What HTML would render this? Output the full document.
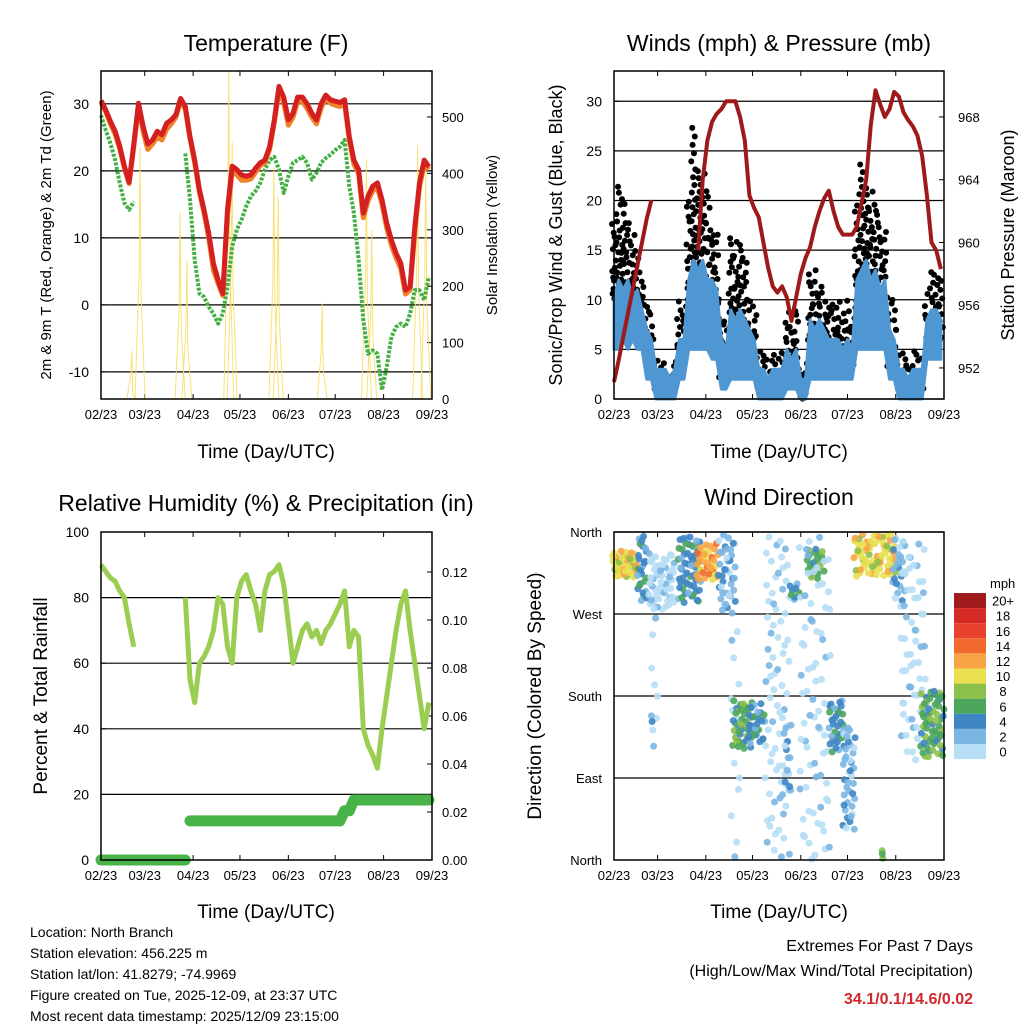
<!DOCTYPE html>
<html><head><meta charset="utf-8"><title>Station Charts</title>
<style>
html,body{margin:0;padding:0;background:#fff;}
svg{display:block;font-family:"Liberation Sans",sans-serif;}
</style></head>
<body>
<svg id="chart" width="1024" height="1024" viewBox="0 0 1024 1024" xmlns="http://www.w3.org/2000/svg">
<rect x="0" y="0" width="1024" height="1024" fill="#fff"/>
<text x="266" y="51" font-size="23" text-anchor="middle">Temperature (F)</text>
<text x="779" y="51" font-size="23" text-anchor="middle">Winds (mph) &amp; Pressure (mb)</text>
<text x="266" y="511" font-size="23" text-anchor="middle">Relative Humidity (%) &amp; Precipitation (in)</text>
<text x="779" y="505" font-size="23" text-anchor="middle">Wind Direction</text>
<text x="266" y="458" font-size="19" text-anchor="middle">Time (Day/UTC)</text>
<text x="779" y="458" font-size="19" text-anchor="middle">Time (Day/UTC)</text>
<text x="266" y="918" font-size="19" text-anchor="middle">Time (Day/UTC)</text>
<text x="779" y="918" font-size="19" text-anchor="middle">Time (Day/UTC)</text>
<text transform="translate(51,235) rotate(-90)" font-size="15" text-anchor="middle">2m &amp; 9m T (Red, Orange) &amp; 2m Td (Green)</text>
<text transform="translate(497,235) rotate(-90)" font-size="15" text-anchor="middle">Solar Insolation (Yellow)</text>
<text transform="translate(562,235) rotate(-90)" font-size="18" text-anchor="middle">Sonic/Prop Wind &amp; Gust (Blue, Black)</text>
<text transform="translate(1014,235) rotate(-90)" font-size="18" text-anchor="middle">Station Pressure (Maroon)</text>
<text transform="translate(47,696) rotate(-90)" font-size="19" text-anchor="middle">Percent &amp; Total Rainfall</text>
<text transform="translate(541,696) rotate(-90)" font-size="19" text-anchor="middle">Direction (Colored By Speed)</text>
<g font-size="14">
<text x="30" y="937">Location: North Branch</text>
<text x="30" y="958">Station elevation: 456.225 m</text>
<text x="30" y="979">Station lat/lon: 41.8279; -74.9969</text>
<text x="30" y="1000">Figure created on Tue, 2025-12-09, at 23:37 UTC</text>
<text x="30" y="1021">Most recent data timestamp: 2025/12/09 23:15:00</text>
</g>
<text x="973" y="951" font-size="16" text-anchor="end">Extremes For Past 7 Days</text>
<text x="973" y="976" font-size="16" text-anchor="end">(High/Low/Max Wind/Total Precipitation)</text>
<text x="973" y="1004" font-size="16" font-weight="bold" fill="#d0282c" text-anchor="end">34.1/0.1/14.6/0.02</text>
</svg>
<script>
// ---- data (3-day samples starting 02/23) ----
const tickDays = [0, 28, 59, 89, 120, 150, 181, 212];
const tickLabels = ["02/23","03/23","04/23","05/23","06/23","07/23","08/23","09/23"];
const sampleStep = 3;
const tempRed = [30.5,29.1,27.4,25.9,23.7,20.7,18.3,24,30.1,26.6,24,24.6,25.9,25.4,27.1,27.6,28.4,30.8,29.6,25.1,21.6,17.2,14.2,10.7,6.2,3.7,1.7,14.2,20.7,20.2,19.4,19.2,19.4,20.4,21.2,21.6,23.6,27.6,32.6,31,27.6,28.6,31,31,30,28.6,27.6,30,31.3,30.6,30.4,30.2,30.6,25.1,21.6,20.2,13.7,16.2,17.7,18.2,15.7,12.2,9.7,7.7,6.2,2.2,2.7,11.7,18.2,21.6,20.6];
const tempOrange = [30.2,28.8,27,25.5,23.3,20.4,18.1,23.6,29.6,25.8,23.2,24,25,24.6,26.2,27,28,30.4,29.2,24.8,21.2,16.8,13.8,10,5.2,3.2,1.4,13.6,20,19.4,18.6,18.6,18.8,19.8,20.8,21.2,23.2,27.2,31.9,30.2,26.8,28,30.4,30.4,29.3,28,27,29.4,30.8,30.1,29.8,29.6,30,24.6,21,19.6,13,15.5,17,17.5,15,11.5,8.9,7,5.4,1.6,2.2,11,17.6,21,20.2];
const dewGreen = [28.3,26.1,24.1,21.6,18.2,15.2,14.2,15.4,null,null,null,null,null,null,null,null,null,null,22.6,15.7,6.7,1.7,1.2,-0.3,-1.3,-2.8,-1.3,2.7,8.7,11.2,12.7,14.7,16.2,17,18.2,20.2,21.6,22.1,20.2,16.7,19.2,21.2,21.6,22.1,21.2,18.7,19.7,21.2,21.9,22.4,23.1,23.6,24.6,17.7,13.7,6.7,-2.3,-7.3,-6.8,-7.3,-12.7,-9.3,-4.8,-3.3,-2.8,-3.3,-1.3,2.2,2.2,0.7,4.2];
const solarDays = [19.7,25,50.7,55,81.8,84,110.7,113.5,141.7,170,173.4,202.8,208];
const solarPeaks = [85,445,330,246,580,455,410,360,170,425,300,450,420];
const windLo = [5,5,6,5,6,5,5,2,2,0,0,0,0,0,2,2,5,5,5,5,5,4,4,1,1,2,2,2,2,2,2,0,0,0,0,0,0,1,1,1,0,0,2,2,2,2,2,2,2,2,2,2,5,5,5,5,5,5,5,2,2,0,0,0,0,0,0,4,4,4,4];
const windHi = [10,12,11,12,10,11,9,7,6,3,3,3,2,3,6,6,12,14,13,14,12,12,11,6,5,9,8,9,8,7,6,3,3,2,3,3,3,5,4,5,2,2,8,7,8,7,6,6,6,5,6,5,12,13,14,12,13,11,12,7,6,3,3,2,3,3,3,8,9,9,8];
const gustLo = [10,10,11,10,10,10,9,5,4,1,1,1,1,1,4,4,10,11,10,10,10,8,8,2,2,5,5,5,5,4,4,1,1,1,1,1,1,2,2,2,0,0,5,5,5,5,4,4,3,3,3,3,8,9,9,8,8,8,8,3,3,1,1,1,1,1,1,6,6,6,6];
const gustHi = [19,22,21,18,17,15,13,10,9,4,4,4,3,4,10,10,20,28,24,23,21,18,17,8,8,17,16,16,15,10,10,5,5,4,5,5,5,9,8,9,4,4,13,13,12,11,10,10,10,9,10,9,20,24,22,21,20,18,17,10,10,5,5,4,5,5,5,11,13,13,12];
const pressure = [951.1,952.5,954,955.5,957,958.5,960,961.5,962.7,null,null,null,null,null,null,null,null,null,959.5,964,966.5,967.7,968.2,968.5,969,969,969,968,966.5,963,962.2,961.6,960,958.4,957.2,956.8,957.2,956.5,955,956.5,958,959,959.7,961,962,962.8,963.3,962,961,960.5,960.5,960.5,961,962.5,964,967.5,969.7,968.8,968,968.5,969.6,969.3,968.3,967.8,967.4,966.8,965.5,963,960,959.5,958.3];
const rh = [90,88,86,85,82,80,72,65,null,null,null,null,null,null,null,null,null,null,80,55,48,60,62,65,70,80,78,65,60,80,85,87,82,78,70,82,87,88,90,84,72,60,65,70,72,68,70,66,70,72,75,78,82,65,70,68,40,35,32,28,40,50,60,70,78,82,70,60,50,40,48];
const precip = [0,0,0,0,0,0,0,0,0,0,0,0,0,0,0,0,0,0,0,0.0163,0.0163,0.0163,0.0163,0.0163,0.0163,0.0163,0.0163,0.0163,0.0163,0.0163,0.0163,0.0163,0.0163,0.0163,0.0163,0.0163,0.0163,0.0163,0.0163,0.0163,0.0163,0.0163,0.0163,0.0163,0.0163,0.0163,0.0163,0.0163,0.0163,0.0163,0.0163,0.0163,0.0205,0.0205,0.025,0.025,0.025,0.025,0.025,0.025,0.025,0.025,0.025,0.025,0.025,0.025,0.025,0.025,0.025,0.025,0.025];
// wind direction clusters
const dirDayStart = [-1,15,22,23,24,41,53,67,75,76,86,97,113,108,124,119,138,147,154,179,184,197,172];
const dirDayEnd   = [15,21,39,28,26,56,67,78,81,89,97,113,119,114,135,139,148,155,181,187,200,212,173];
const dirLo = [310,283,275,110,137,282,307,271,0,121,128,0,285,70,307,0,117,33,311,283,110,113,0];
const dirHi = [340,357,337,275,165,355,348,357,260,176,172,357,307,150,343,355,176,146,358,355,350,186,15];
const dirSpeed = [11,4,1,1,3,5,13,3,1,7,4,1,4,3,6.5,1,5,3,11,3,1,6,9];
const dirDensity = [3,2,2,0.3,1,2,2,1.5,0.3,2,2,0.5,2,1,2,0.4,2,1.5,2,1.5,0.6,2,2];
const speedColors = ["#b6def5","#7bb6e2","#3f86c4","#4ca65d","#8cc04a","#e8e04f","#f9a444","#f26a2d","#e8412e","#d62b25","#a01c1c"];
const speedLabels = ["0","2","4","6","8","10","12","14","16","18","20+"];

// ---- helpers ----
const svg = document.getElementById('chart');
const NS = 'http://www.w3.org/2000/svg';
function el(tag, attrs, parent){ const e=document.createElementNS(NS,tag); for(const k in attrs) e.setAttribute(k,attrs[k]); (parent||svg).appendChild(e); return e; }
function lin(d0,d1,r0,r1){ return v => r0 + (v-d0)/(d1-d0)*(r1-r0); }
function halton(i,b){ let f=1,r=0; while(i>0){ f/=b; r+=f*(i%b); i=Math.floor(i/b);} return r; }

const panels = {
  temp:{x0:101,x1:432,y0:71,y1:399},
  wind:{x0:614,x1:944,y0:71,y1:399},
  rh:{x0:101,x1:432,y0:532,y1:860},
  dir:{x0:614,x1:944,y0:532,y1:860}
};
const X = {}; for (const k in panels){ const p=panels[k]; X[k]=lin(0,212,p.x0,p.x1); }
const yTemp = lin(-14.05,34.9,399,71);
const ySolar = lin(0,581.5,399,71);
const yWind = lin(0,33.05,399,71);
const yPres = lin(950.02,970.93,399,71);
const yRH = lin(0,100,860,532);
const yPrec = lin(0,0.13667,860,532);
const yDir = lin(0,360,860,532);

function drawFrame(key, leftTicks, leftFmt, leftScale, rightTicks, rightFmt, rightScale, gridTicks){
  const p = panels[key];
  const g = el('g',{});
  
  
  gridTicks.forEach(v=>{
    const y=leftScale(v);
    const l=el('line',{x1:p.x0,x2:p.x1,y1:y,y2:y,stroke:'#000','stroke-width':1.2},g);
    
    
  });
  leftTicks.forEach(v=>{
    const y=leftScale(v);
    el('line',{x1:p.x0,x2:p.x0+5,y1:y,y2:y,stroke:'#000'},g);
    const t=el('text',{x:p.x0-12,y:y+5,'font-size':key==='dir'?13:14,'text-anchor':'end'},g);
    t.textContent=leftFmt(v);
    
    
  });
  if(rightTicks) rightTicks.forEach(v=>{
    const y=rightScale(v);
    el('line',{x1:p.x1-5,x2:p.x1,y1:y,y2:y,stroke:'#000'},g);
    const t=el('text',{x:p.x1+(key==='wind'?14:10),y:y+5,'font-size':13},g);
    t.textContent=rightFmt(v);
    
    
  });
  tickDays.forEach((d,i)=>{
    const x=X[key](d);
    el('line',{x1:x,x2:x,y1:p.y1,y2:p.y1-5,stroke:'#000'},g);
    el('line',{x1:x,x2:x,y1:p.y0,y2:p.y0+5,stroke:'#000'},g);
    const t=el('text',{x:x,y:p.y1+20,'font-size':13,'text-anchor':'middle'},g);
    t.textContent=tickLabels[i];
    
    
  });
  return g;
}
function frameBox(key){
  const p=panels[key];
  const r=el('rect',{x:p.x0,y:p.y0,width:p.x1-p.x0,height:p.y1-p.y0,fill:'none',stroke:'#000','stroke-width':1.5});
  
  
}
function linePath(key, arr, yS){
  let d='', pen=false;
  arr.forEach((v,i)=>{
    if(v===null){pen=false;return;}
    const x=X[key](i*sampleStep), y=yS(v);
    d += (pen?'L':'M')+x.toFixed(1)+' '+y.toFixed(1)+' ';
    pen=true;
  });
  return d;
}

// ---- TEMPERATURE ----
drawFrame('temp',[-10,0,10,20,30],v=>v,yTemp,[0,100,200,300,400,500],v=>v,ySolar,[-10,0,10,20,30]);
const solarG = el('g',{});


solarDays.forEach((d,i)=>{
  const x=X.temp(d), top=ySolar(solarPeaks[i]), base=ySolar(0);
  const s=el('path',{d:`M${x-5} ${base} L${x-1} ${(top+base)/2} L${x} ${top} L${x+1} ${(top+base)/2+20} L${x+5} ${base}`,fill:'none',stroke:'#f7dc5c','stroke-width':1,opacity:0.85},solarG);
  
  
});
const dewLine = el('path',{d:linePath('temp',dewGreen,yTemp),fill:'none',stroke:'#44b044','stroke-width':4,'stroke-dasharray':'3 1.5','stroke-linejoin':'round'});


const orLine = el('path',{d:linePath('temp',tempOrange,yTemp),fill:'none',stroke:'#f0822a','stroke-width':5,'stroke-linejoin':'round'});


const redLine = el('path',{d:linePath('temp',tempRed,yTemp),fill:'none',stroke:'#d42020','stroke-width':5,'stroke-linejoin':'round'});


frameBox('temp');

// ---- WINDS ----
drawFrame('wind',[0,5,10,15,20,25,30],v=>v,yWind,[952,956,960,964,968],v=>v,yPres,[0,5,10,15,20,25,30]);
const gustG = el('g',{});


let gk=1;
gustHi.forEach((hi,i)=>{
  const lo=gustLo[i], xc=X.wind(i*sampleStep);
  const n=Math.max(3,Math.round((hi-lo)*1.6));
  for(let k=0;k<n;k++){
    const fx=halton(gk,2), fy=halton(gk,3); gk++;
    const v=lo+Math.pow(fy,1.4)*(hi-lo);
    const c=el('circle',{cx:(xc-2.3+fx*4.67).toFixed(1),cy:yWind(v).toFixed(1),r:3,fill:'#000'},gustG);
    
    
  }
});
let bandD='';
windHi.forEach((v,i)=>{ bandD += (i?'L':'M')+X.wind(i*sampleStep).toFixed(1)+' '+yWind(v).toFixed(1)+' '; });
for(let i=windLo.length-1;i>=0;i--){ bandD += 'L'+X.wind(i*sampleStep).toFixed(1)+' '+yWind(windLo[i]).toFixed(1)+' '; }
const band = el('path',{d:bandD+'Z',fill:'#4f97d2',stroke:'#4f97d2','stroke-width':3,'stroke-linejoin':'round'});


const presLine = el('path',{d:linePath('wind',pressure,yPres),fill:'none',stroke:'#9e1a1a','stroke-width':4,'stroke-linejoin':'round'});


frameBox('wind');

// ---- RH & PRECIP ----
drawFrame('rh',[0,20,40,60,80,100],v=>v,yRH,[0,0.02,0.04,0.06,0.08,0.10,0.12],v=>v.toFixed(2),yPrec,[20,40,60,80]);
let precD='', prev=null;
precip.forEach((v,i)=>{
  const x=X.rh(i*sampleStep).toFixed(1), y=yPrec(v).toFixed(1);
  precD += (prev===null || Math.abs(prev-v)>0.003 && i<20 ? 'M':'L')+x+' '+y+' ';
  prev=v;
});
const precLine = el('path',{d:precD,fill:'none',stroke:'#48b348','stroke-width':11,'stroke-linecap':'round','stroke-linejoin':'round'});


const rhLine = el('path',{d:linePath('rh',rh,yRH),fill:'none',stroke:'#9acd50','stroke-width':5,'stroke-linejoin':'round'});


frameBox('rh');

// ---- WIND DIRECTION ----
drawFrame('dir',[0,90,180,270,360],v=>['North','East','South','West','North'][v/90],yDir,null,null,null,[90,180,270,360]);
const dirG = el('g',{});


let hk=1;
dirDayStart.forEach((d0,c)=>{
  const d1=dirDayEnd[c], lo=dirLo[c], hi=dirHi[c];
  const n=Math.max(3,Math.round((d1-d0+1)*(hi-lo)/12*dirDensity[c]*0.3));
  const bin=Math.min(10,Math.floor(dirSpeed[c]/2));
  for(let k=0;k<n;k++){
    const fx=halton(hk,2), fy=halton(hk,3), fs=halton(hk,5); hk++;
    const sp=Math.min(10,Math.max(0,bin+(fs<0.25?1:fs>0.8?-1:0)));
    const pt=el('circle',{cx:X.dir(d0+fx*(d1-d0)).toFixed(1),cy:yDir(lo+fy*(hi-lo)).toFixed(1),r:3.5,fill:speedColors[sp],opacity:0.9},dirG);
    
    
  }
});
frameBox('dir');

// colorbar
const cb = el('g',{});


const cbTop=593, cbH=15.1;
const mph=el('text',{x:990,y:588,'font-size':13},cb);
mph.textContent='mph';


for(let i=0;i<11;i++){
  const idx=10-i, y=cbTop+i*cbH;
  const r=el('rect',{x:954,y:y,width:32,height:cbH,fill:speedColors[idx]},cb);
  
  
  const t=el('text',{x:1003,y:y+cbH/2+5,'font-size':13,'text-anchor':'middle'},cb);
  t.textContent=speedLabels[idx];
  
  
}
</script>
</body></html>
